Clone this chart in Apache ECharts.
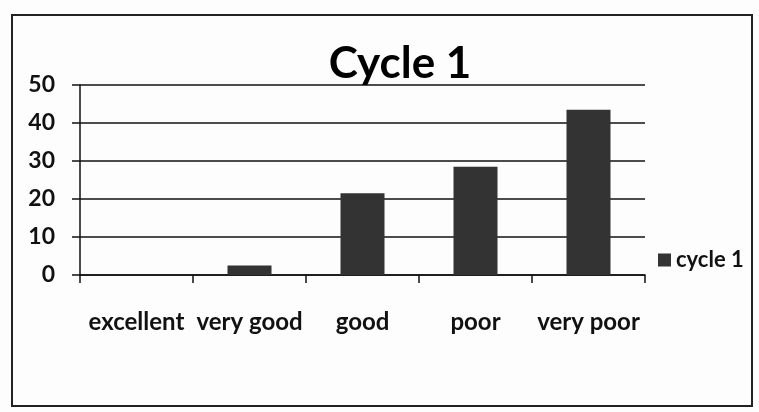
<!DOCTYPE html>
<html><head><meta charset="utf-8">
<script src="https://cdn.jsdelivr.net/npm/echarts@6/dist/echarts.min.js"></script>
<style>html,body{margin:0;padding:0;background:#fff}#c{width:759px;height:412px}</style>
</head><body><div id="c"></div>
<script>
const categories = ['excellent', 'very good', 'good', 'poor', 'very poor'];
const cycle1 = [0, 2.5, 21.5, 28.5, 43.5];
const yTicks = [0, 10, 20, 30, 40, 50];

const chart = echarts.init(document.getElementById('c'));
const font = 'Lato, Open Sans, sans-serif';
chart.setOption({
  backgroundColor: '#fdfdfd',
  animation: false,
  graphic: [{
    type: 'rect', shape: { x: 12, y: 15, width: 740, height: 391 },
    style: { fill: 'none', stroke: '#222', lineWidth: 2 }, silent: true
  }],
  title: {
    text: 'Cycle 1', left: 395, top: 37, textAlign: 'center',
    textStyle: { fontFamily: font, fontSize: 44, fontWeight: 'bold', color: '#000' }
  },
  legend: {
    data: ['cycle 1'], left: 653, top: 244, itemWidth: 13, itemHeight: 13, itemGap: 6,
    icon: 'rect',
    textStyle: { fontFamily: font, fontSize: 22, fontWeight: 'bold', color: '#111' }
  },
  grid: { left: 80, right: 114, top: 85, bottom: 137 },
  xAxis: {
    type: 'category', data: categories,
    axisLine: { lineStyle: { color: '#111', width: 1.5 } },
    axisTick: { show: true, length: 8, alignWithLabel: false, lineStyle: { color: '#111', width: 1.5 } },
    axisLabel: { fontFamily: font, fontSize: 24, fontWeight: 'bold', color: '#111', margin: 35, interval: 0 }
  },
  yAxis: {
    type: 'value', min: yTicks[0], max: yTicks[yTicks.length - 1], interval: 10,
    axisLine: { show: true, lineStyle: { color: '#111', width: 1.5 } },
    axisTick: { show: true, length: 8, lineStyle: { color: '#111', width: 1.5 } },
    axisLabel: { fontFamily: font, fontSize: 23, fontWeight: 'bold', color: '#111', margin: 25 },
    splitLine: { lineStyle: { color: '#111', width: 1.5 } }
  },
  series: [{
    name: 'cycle 1', type: 'bar', data: cycle1, barWidth: 44,
    itemStyle: { color: '#333' }
  }]
});
</script></body></html>
